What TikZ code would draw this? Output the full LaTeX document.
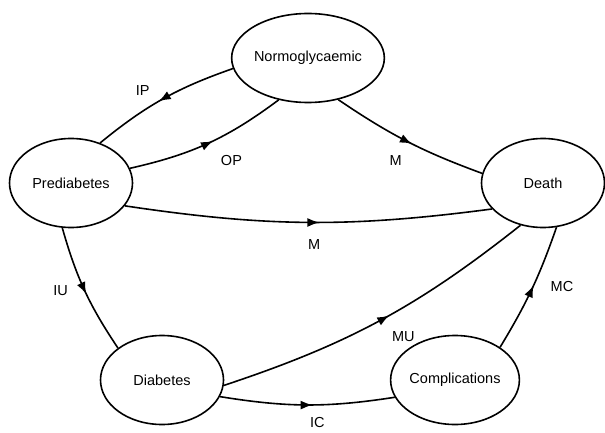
\documentclass[tikz,border=0pt]{standalone}
\usepackage{fontspec}
\setmainfont{Liberation Sans}
\usetikzlibrary{shapes.geometric,arrows.meta,decorations.markings}

\begin{document}
\begin{tikzpicture}[x=1pt, y=-1pt, font=\fontsize{14.5}{17}\selectfont,
    state/.style={ellipse, draw, line width=1.6pt, minimum width=123pt, minimum height=89pt, inner sep=0pt},
    trans/.style={line width=1.6pt, postaction={decorate},
        decoration={markings, mark=at position .53 with {\arrow{Latex[length=12pt,width=9pt]}}}},
    lbl/.style={inner sep=0pt, pos=.5}]
\useasboundingbox (0,0) rectangle (605,433);

\node[state] (norm) at (308,58) {Normoglycaemic};
\node[state] (pre) at (71,183) {Prediabetes};
\node[state] (death) at (543,183) {Death};
\node[state] (diab) at (162,380) {Diabetes};
\node[state] (comp) at (455,380) {Complications};

% transitions
\draw[trans] (norm.188) to[bend right=10] node[lbl, xshift=-20, yshift=8] (lip) {IP} (pre.54);
\draw[trans] (pre.14) to[bend right=12] node[lbl, xshift=23, yshift=-17] (lop) {OP} (norm.235);
\draw[trans] (norm.-54) to[bend right=7] node[lbl, xshift=-12, yshift=-19] (lmn) {M} (death.171);
\draw[trans] (pre.-23) to[bend right=8] node[lbl, xshift=6, yshift=-22] (lmp) {M} (death.-153);
\draw[trans] (pre.-101) to[bend right=9] node[lbl, xshift=-24] (liu) {IU} (diab.144);
\draw[trans] (diab.-5) to[bend right=10] node[lbl, xshift=23, yshift=-16] (lmu) {MU} (death.-118);
\draw[trans] (diab.-16) to[bend right=9] node[lbl, xshift=10, yshift=-18] (lic) {IC} (comp.-164);
\draw[trans] (comp.36) to[bend right=6] node[lbl, xshift=30, yshift=2] (lmc) {MC} (death.-73);

\end{tikzpicture}
\end{document}
